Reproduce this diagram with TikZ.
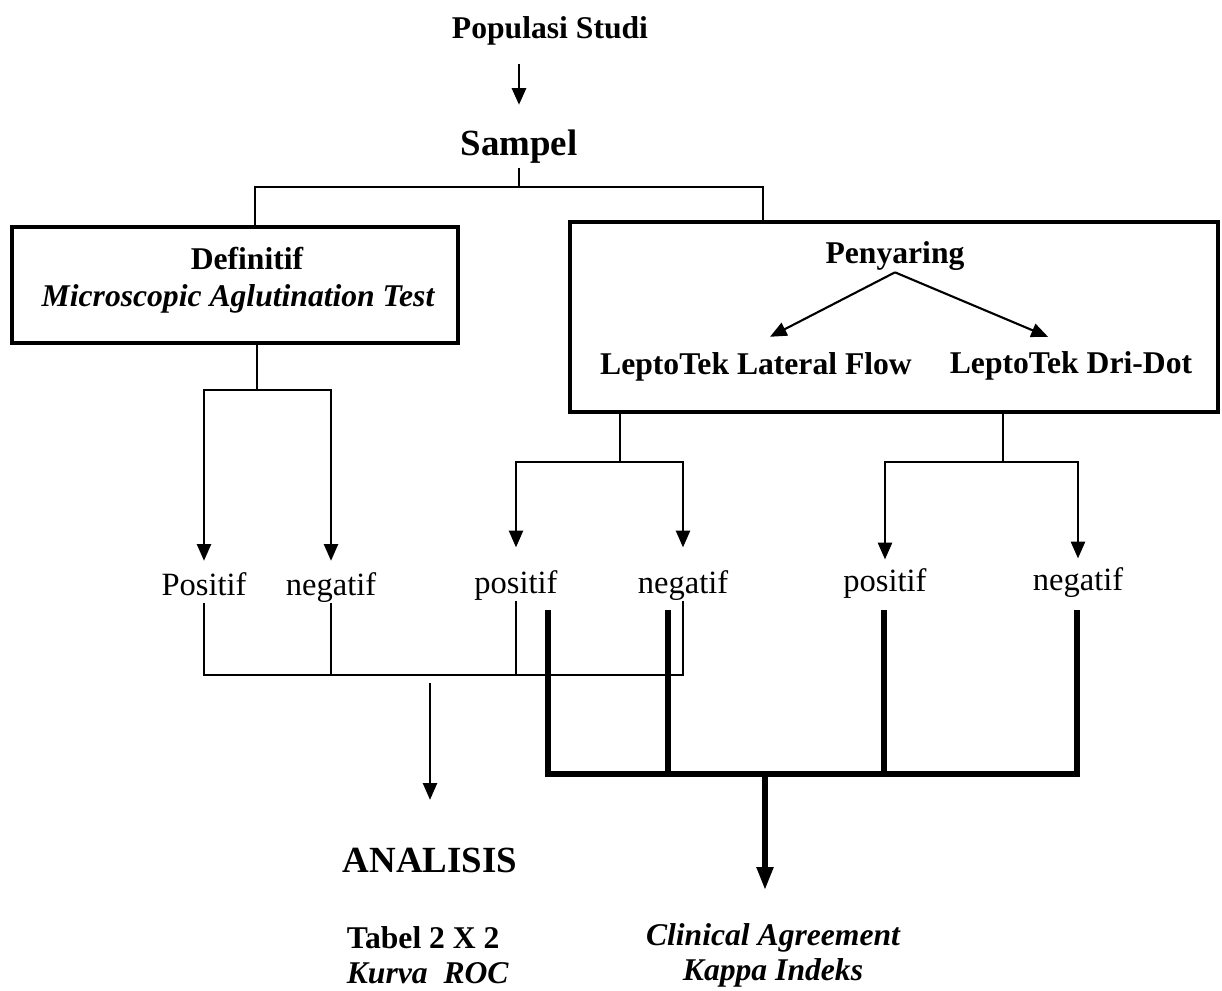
\documentclass[tikz,border=0pt]{standalone}
\usepackage{fontspec}
\setmainfont{Liberation Serif}
\usetikzlibrary{arrows.meta, positioning, calc}
\tikzset{
  lbl/.style={font=\fontsize{18.5}{20}\selectfont, inner sep=2pt,
              text height=0.7em, text depth=0.2em},
  hd/.style={font=\fontsize{18}{20}\selectfont\bfseries, inner sep=2pt},
  hdit/.style={font=\fontsize{18}{20}\selectfont\bfseries\itshape, inner sep=2pt},
  big/.style={font=\fontsize{21}{24}\selectfont\bfseries, inner sep=2pt},
  panel/.style={draw, line width=2.2pt, inner sep=0pt},
  ln/.style={line width=1.2pt},
  arr/.style={ln, -{Triangle[length=9.5pt, width=8pt]}},
  fat/.style={line width=3pt},
  fatarr/.style={fat, -{Triangle[length=13pt, width=9pt]}},
}
\begin{document}
\begin{tikzpicture}[x=0.2mm, y=-0.2mm]
  \useasboundingbox (0,0) rectangle (1222,991);

  % top
  \node[hd] (pop) at (550,31) {Populasi Studi};
  \node[big] (samp) at (519,147) {Sampel};
  \draw[arr, line width=1.6pt, shorten <=8.7pt, shorten >=12.3pt]
        (pop.south -| samp.north) -- (samp.north);

  % boxes
  \node[panel, minimum width=89.2mm, minimum height=23.2mm] (defbox) at (235,285) {};
  \node[panel, minimum width=129.6mm, minimum height=38mm] (scrbox) at (894,317) {};
  \node[hd] (def) at (247,259) {Definitif};
  \node[hdit] (mat) at (238,299) {Microscopic Aglutination Test};
  \node[hd] (pen) at (895,256) {Penyaring};
  \node[hd] (lfa) at (756,367) {LeptoTek Lateral Flow};
  \node[hd] (ddt) at (1071,366) {LeptoTek Dri-Dot};
  \coordinate (pfork) at ($(pen.south)+(0,-2)$);
  \draw[arr] (pfork) -- ($(lfa.north)+(14,-12)$);
  \draw[arr] (pfork) -- ($(ddt.north)+(-23,-11)$);

  \coordinate (bl) at (255,187);
  \coordinate (br) at (763,187);
  \draw[ln] (samp.south) -- (samp.south |- bl);
  \draw[ln] (defbox.north -| bl) -- (bl) -- (br) -- (scrbox.north -| br);

  % results
  \node[lbl] (pos1) at (204,591) {Positif};
  \node[lbl] (neg1) at (331,591) {negatif};
  \node[lbl] (pos2) at (516,589) {positif};
  \node[lbl] (neg2) at (683,589) {negatif};
  \node[lbl] (pos3) at (885,587) {positif};
  \node[lbl] (neg3) at (1078,586) {negatif};

  \coordinate (ls) at (257,390);
  \coordinate (ms) at (620,462);
  \coordinate (rs) at (1003,462);
  \draw[ln] (defbox.south -| ls) -- (ls);
  \draw[ln] (scrbox.south -| ms) -- (ms);
  \draw[ln] (scrbox.south -| rs) -- (rs);
  \draw[arr, shorten >=10.5pt] (ls) -| (pos1.north);
  \draw[arr, shorten >=10.5pt] (ls) -| (neg1.north);
  \draw[arr, shorten >=17pt] (ms) -| (pos2.north);
  \draw[arr, shorten >=17pt] (ms) -| (neg2.north);
  \draw[arr, shorten >=9pt] (rs) -| (pos3.north);
  \draw[arr, shorten >=9pt] (rs) -| (neg3.north);

  % analysis (thin)
  \coordinate (tbar) at (0,675);
  \draw[ln] (pos1.south) -- (pos1.south |- tbar) -- (neg2.south |- tbar) -- (neg2.south);
  \draw[ln] (neg1.south) -- (neg1.south |- tbar);
  \draw[ln] (pos2.south) -- (pos2.south |- tbar);
  \node[big] (ana) at (430,860) {ANALISIS};
  \draw[arr, shorten <=4.5pt, shorten >=25pt] (ana.north |- tbar) -- (ana.north);
  \node[hd, align=left, anchor=west] (tab) at (343,955) {Tabel 2 X 2\\\textit{Kurva\ \ ROC}};

  % agreement (thick)
  \coordinate (k1) at (548,610);
  \coordinate (k2) at (668,610);
  \coordinate (k3) at (884,610);
  \coordinate (k4) at (1077,610);
  \coordinate (kbar) at (0,774);
  \draw[fat] (k1) |- (k4 |- kbar) -- (k4);
  \draw[fat] (k2) -- (k2 |- kbar);
  \draw[fat] (k3) -- (k3 |- kbar);
  \coordinate (kout) at (765,774);
  \coordinate (kend) at (765,890);
  \draw[fatarr] (kout) -- (kend);
  \node[hdit, align=center] (clin) at (773,955) {Clinical Agreement\\Kappa Indeks};
\end{tikzpicture}
\end{document}
